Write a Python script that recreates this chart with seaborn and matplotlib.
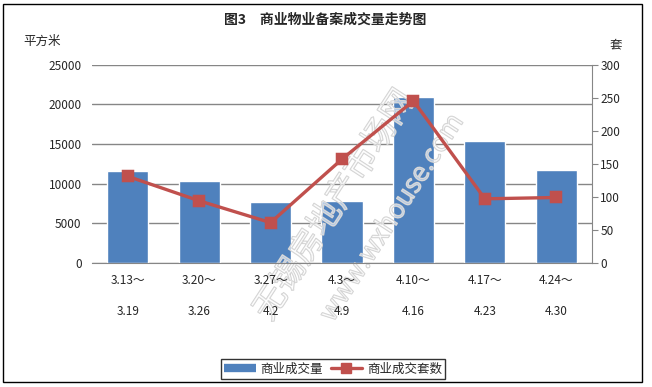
import matplotlib
matplotlib.use("Agg")
import matplotlib.pyplot as plt
import matplotlib.patheffects as pe
from matplotlib.patches import Rectangle
from matplotlib.lines import Line2D
import pandas as pd
import seaborn as sns

# Data
periods = ["3.13～\n3.19", "3.20～\n3.26", "3.27～\n4.2", "4.3～\n4.9",
           "4.10～\n4.16", "4.17～\n4.23", "4.24～\n4.30"]
area = [11620, 10360, 7680, 7810, 20950, 15370, 11710]   # 商业成交量 (平方米)
units = [131, 94, 61, 157, 245, 97, 99]                     # 商业成交套数 (套)

df = pd.DataFrame({"period": periods, "area": area, "units": units})

sns.set_style("white")
plt.rcParams["font.family"] = ["Noto Sans CJK SC", "DejaVu Sans"]
plt.rcParams["axes.unicode_minus"] = False

bar_color = "#4F81BD"
line_color = "#C0504D"
grid_color = "#868686"

fig = plt.figure(figsize=(6.52, 3.87), dpi=100)
ax = fig.add_axes([92 / 652, 124 / 387, 500 / 652, 198.5 / 387])

sns.barplot(data=df, x="period", y="area", color=bar_color, width=0.575,
            saturation=1, ax=ax, zorder=2)
ax.set_ylim(0, 25000)
ax.set_yticks(range(0, 25001, 5000))
ax.set_xlim(-0.5, len(periods) - 0.5)
ax.grid(axis="y", color=grid_color, linewidth=1)
ax.set_axisbelow(True)
ax.xaxis.set_zorder(3)   # keep category labels above the watermark
for s in ["top", "left", "right"]:
    ax.spines[s].set_visible(False)
ax.spines["bottom"].set_color(grid_color)
ax.set_xlabel("")
ax.set_ylabel("")
ax.tick_params(axis="y", length=0, pad=7.5, labelsize=8.5)
ax.tick_params(axis="x", length=0, pad=8, labelsize=8.5)
ax.set_xticks(range(len(periods)))
ax.set_xticklabels(periods, linespacing=2.75)

# Watermark: hollow outlined letters above the bars
wm = [pe.Stroke(linewidth=0.9, foreground="#d0d0d0"), pe.Normal()]
ax.text(335 / 652, 1 - 205 / 387, "无锡房地产市场网", rotation=57,
        ha="center", va="center", fontsize=24, color=(1, 1, 1, 0.35),
        path_effects=wm, transform=fig.transFigure, clip_on=False, zorder=2.2)
ax.text(392 / 652, 1 - 218 / 387, "www.wxhouse.com", rotation=57,
        ha="center", va="center", fontsize=19, color=(1, 1, 1, 0.35),
        path_effects=wm, transform=fig.transFigure, clip_on=False, zorder=2.2)

ax2 = ax.twinx()
sns.pointplot(data=df, x="period", y="units", color=line_color, markers="s",
              linestyles="-", markersize=6.5, linewidth=2.4, ax=ax2)
ax2.set_ylim(0, 300)
ax2.set_yticks(range(0, 301, 50))
ax2.set_xlim(-0.5, len(periods) - 0.5)
ax2.set_ylabel("")
ax2.set_xlabel("")
for s in ["top", "left", "bottom"]:
    ax2.spines[s].set_visible(False)
ax2.spines["right"].set_color(grid_color)
ax2.tick_params(axis="y", direction="out", length=4, color=grid_color,
                pad=2, labelsize=8.5, right=True)

# Titles and unit labels
fig.text(325 / 652, 1 - 20 / 387, "图3　商业物业备案成交量走势图",
         ha="center", va="center", fontsize=10, fontweight="bold")
fig.text(42 / 652, 1 - 41 / 387, "平方米", ha="center", va="center", fontsize=9)
fig.text(616 / 652, 1 - 45 / 387, "套", ha="center", va="center", fontsize=9)

# Legend
handles = [Line2D([0], [0], color=bar_color, linewidth=6, solid_capstyle="butt"),
           Line2D([0], [0], color=line_color, linewidth=2.4, marker="s",
                  markersize=6.5)]
leg = fig.legend(handles, ["商业成交量", "商业成交套数"], loc="center",
                 bbox_to_anchor=(333 / 652, 1 - 369 / 387), ncol=2,
                 fontsize=9, frameon=True, fancybox=False, handlelength=2.5,
                 handletextpad=0.4, columnspacing=0.6, borderpad=0.25)
leg.get_frame().set_edgecolor("black")
leg.get_frame().set_linewidth(1)

# Outer border
fig.patches.append(Rectangle((3 / 652, 1 - 382 / 387), 639 / 652, 378 / 387,
                             transform=fig.transFigure, fill=False,
                             edgecolor="black", linewidth=1))

fig.savefig("out.png", dpi=100)
